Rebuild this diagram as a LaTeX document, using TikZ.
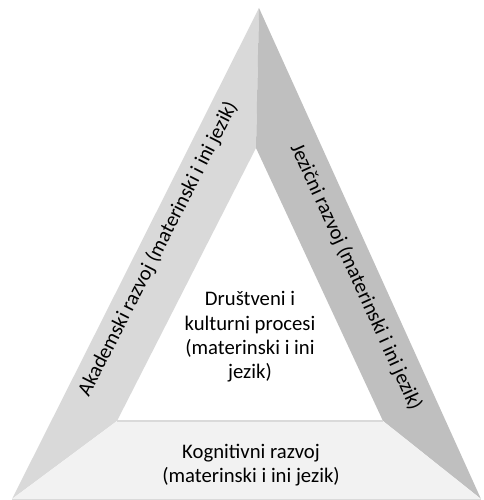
\documentclass[tikz,border=0pt]{standalone}
\usepackage{fontspec}
\setmainfont{Carlito}
\definecolor{bandLc}{HTML}{D9D9D9}
\definecolor{bandRc}{HTML}{BFBFBF}
\definecolor{bandBc}{HTML}{F2F2F2}
\definecolor{edgec}{HTML}{DADADA}
\begin{document}
\begin{tikzpicture}[x=1pt,y=1pt,
  bandL/.style={fill=bandLc},
  bandR/.style={fill=bandRc},
  bandB/.style={fill=bandBc},
  edgeline/.style={draw=edgec,line width=1.2pt},
  lbl/.style={font=\fontsize{20.7}{24.3}\selectfont,text=black,align=center,inner sep=0pt}]
\useasboundingbox (0,0) rectangle (483,500);
\coordinate (A) at (259,492);
\coordinate (BL) at (12,1);
\coordinate (BR) at (481,1);
\coordinate (iA) at (256,352);
\coordinate (iBL) at (117,79);
\coordinate (iBR) at (383,79);
\fill[bandL] (A) -- (BL) -- (iBL) -- (iA) -- cycle;
\fill[bandR] (A) -- (iA) -- (iBR) -- (BR) -- cycle;
\fill[bandB] (BL) -- (iBL) -- (iBR) -- (BR) -- cycle;
\draw[edgeline] (iBL) -- (iBR);
\draw[edgeline,line width=0.8pt] (BL) -- (BR);
\node[lbl,rotate=63] (akad) at (158,251) {Akademski razvoj (materinski i ini jezik)};
\node[lbl,rotate=-65.5] (jez) at (356,223) {Jezični razvoj (materinski i ini jezik)};
\node[lbl] (drus) at (250,163) {Društveni i\\kulturni procesi\\(materinski i ini\\jezik)};
\node[lbl] (kogn) at (251,35) {Kognitivni razvoj\\(materinski i ini jezik)};
\end{tikzpicture}
\end{document}
